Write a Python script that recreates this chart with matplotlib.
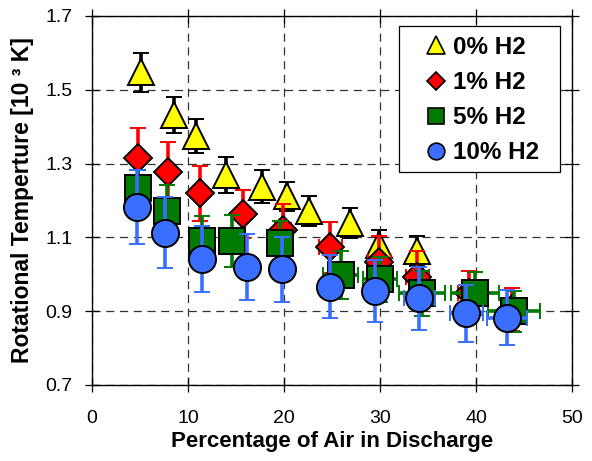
import matplotlib
matplotlib.use("Agg")
import matplotlib.pyplot as plt
from matplotlib.lines import Line2D
from matplotlib.patches import Rectangle

plt.rcParams['font.family'] = ['Liberation Sans', 'DejaVu Sans']

# Rotational temperature (10^3 K) vs. percentage of air, for four H2 fractions
labels = ["0% H2", "1% H2", "5% H2", "10% H2"]

air_0 = [5.1, 8.5, 10.8, 14.0, 17.7, 20.3, 22.6, 26.9, 29.9, 33.9]
temp_0 = [1.547, 1.432, 1.374, 1.269, 1.237, 1.211, 1.172, 1.139, 1.079, 1.063]
err_0 = [0.054, 0.048, 0.046, 0.050, 0.045, 0.040, 0.040, 0.040, 0.040, 0.040]
xerr_0 = [0, 0, 0, 0, 0, 0, 0, 0, 0, 0]

air_1 = [4.75, 7.9, 11.2, 15.7, 19.9, 24.8, 29.9, 33.9, 39.3, 43.8]
temp_1 = [1.316, 1.278, 1.219, 1.163, 1.120, 1.073, 1.034, 0.992, 0.950, 0.905]
err_1 = [0.080, 0.080, 0.075, 0.065, 0.070, 0.070, 0.070, 0.070, 0.058, 0.058]
xerr_1 = [0, 0, 0, 0, 0.8, 1.2, 1.2, 1.2, 1.2, 1.2]

air_5 = [4.8, 7.8, 11.5, 14.6, 19.6, 25.9, 30.0, 34.4, 39.9, 44.0]
temp_5 = [1.233, 1.172, 1.091, 1.090, 1.085, 0.998, 0.986, 0.948, 0.949, 0.900]
err_5 = [0.050, 0.070, 0.067, 0.070, 0.060, 0.065, 0.060, 0.060, 0.058, 0.056]
xerr_5 = [0, 0, 0, 0, 0, 1.8, 1.8, 2.4, 2.5, 2.7]

air_10 = [4.65, 7.6, 11.5, 16.1, 19.8, 24.8, 29.5, 34.1, 39.0, 43.2]
temp_10 = [1.183, 1.113, 1.041, 1.020, 1.013, 0.966, 0.955, 0.935, 0.894, 0.882]
err_10 = [0.100, 0.097, 0.090, 0.090, 0.088, 0.085, 0.083, 0.086, 0.078, 0.075]
xerr_10 = [0, 0, 0, 0, 0, 0, 0, 1.6, 1.7, 2.1]

colors = ['#FFFF00', '#FF0000', '#007A00', '#3A6EFF']
markers = ['^', 'D', 's', 'o']

series = [
    (air_0, temp_0, err_0, xerr_0, 'black', 19),
    (air_1, temp_1, err_1, xerr_1, colors[1], 14),
    (air_5, temp_5, err_5, xerr_5, colors[2], 18.5),
    (air_10, temp_10, err_10, xerr_10, colors[3], 19.5),
]

fig = plt.figure(figsize=(5.92, 4.61), dpi=100)
ax = fig.add_axes([0.1554, 0.1649, 0.8108, 0.8004])

for i, (x, y, ye, xe, ec, ms) in enumerate(series):
    ax.errorbar(x, y, yerr=ye, xerr=xe, fmt=markers[i], ms=ms, mfc=colors[i],
                mec='black', mew=1.4, ecolor=ec, elinewidth=2.6, capsize=6,
                capthick=2.6, zorder=3 + i)

ax.set_xlim(0, 50)
ax.set_ylim(0.7, 1.7)
ax.set_xticks([0, 10, 20, 30, 40, 50])
ax.set_yticks([0.7, 0.9, 1.1, 1.3, 1.5, 1.7])
ax.set_yticklabels(["0.7", "0.9", "1.1", "1.3", "1.5", "1.7"])

ax.grid(True, color='#333333', linestyle=(0, (6.5, 4.5)), linewidth=0.9, zorder=1)
ax.set_axisbelow(True)

ax.tick_params(axis='both', which='both', direction='inout', length=10, width=0.9,
               labelsize=14, top=True, right=True)
ax.tick_params(axis='x', pad=13)
ax.tick_params(axis='y', pad=9)
for sp in ax.spines.values():
    sp.set_linewidth(1.0)
    sp.set_color('black')

ax.set_xlabel("Percentage of Air in Discharge", fontsize=16, fontweight='bold', labelpad=3)
ax.set_ylabel("Rotational Temperture [10 \u00b3 K]", fontsize=16.5, fontweight='bold', labelpad=8)

# legend box drawn as its own patch, entries placed inside without a frame
box = Rectangle((0.6396, 0.577), 0.3354, 0.396, transform=ax.transAxes,
                facecolor='white', edgecolor='black', linewidth=0.9, zorder=9)
ax.add_patch(box)

handles = [
    Line2D([], [], linestyle='none', marker='^', ms=12.5, mfc=colors[0], mec='black', mew=1.2),
    Line2D([], [], linestyle='none', marker='D', ms=8.7, mfc=colors[1], mec='black', mew=1.2),
    Line2D([], [], linestyle='none', marker='s', ms=11.3, mfc=colors[2], mec='black', mew=1.2),
    Line2D([], [], linestyle='none', marker='o', ms=12, mfc=colors[3], mec='black', mew=1.2),
]
leg = ax.legend(handles, labels, loc='upper left', bbox_to_anchor=(0.6396 + 0.051, 0.973 - 0.027),
                borderaxespad=0, frameon=False,
                prop={'weight': 'bold', 'size': 17.5}, handlelength=1.0,
                handletextpad=0.2, labelspacing=0.5, borderpad=0.0)
leg.set_zorder(10)

fig.savefig("out.png", dpi=100)
